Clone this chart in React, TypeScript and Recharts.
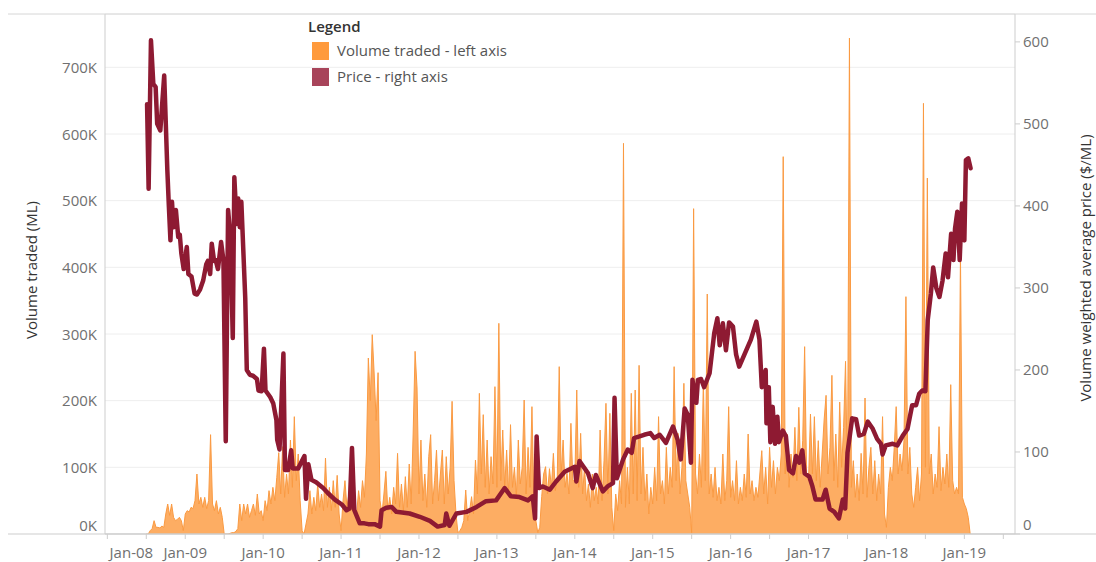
import React from 'react';
import { ComposedChart, Area, Line, XAxis, YAxis, CartesianGrid } from 'recharts';

const FONT = '"Open Sans", "Noto Sans", Arial, sans-serif';

// Volume traded (thousand ML), sampled every 0.025 year starting mid-2008
const VOL_START = 2008.5;
const VOL_STEP = 0.025;
const vol2008 = [0, 0, 5, 8, 20, 10, 10, 9, 12, 10, 30, 45, 28, 45, 25, 20, 22, 25, 20, 5];
const vol2009 = [30, 35, 33, 40, 38, 50, 90, 45, 55, 40, 55, 38, 50, 149, 45, 35, 50, 30, 40, 25, 0, 0, 0, 1, 2, 2, 4, 8, 45, 20, 45, 30, 45, 25, 35, 45, 28, 60, 30, 35];
const vol2010 = [20, 50, 35, 65, 45, 70, 50, 85, 122, 60, 131, 55, 90, 60, 141, 70, 176, 80, 120, 50, 5, 0, 15, 30, 65, 30, 55, 35, 75, 40, 60, 35, 114, 40, 70, 35, 80, 40, 88, 30];
const vol2011 = [5, 50, 80, 40, 60, 35, 75, 40, 30, 65, 40, 80, 55, 120, 264, 200, 299, 240, 170, 242, 50, 30, 60, 94, 35, 55, 30, 70, 45, 121, 40, 75, 35, 86, 40, 105, 45, 150, 274, 219];
const vol2012 = [60, 141, 50, 90, 40, 116, 149, 45, 80, 126, 50, 90, 126, 45, 116, 60, 100, 199, 80, 30, 2, 5, 10, 20, 66, 20, 35, 56, 30, 111, 60, 211, 90, 179, 70, 141, 60, 116, 75, 221];
const vol2013 = [70, 316, 80, 156, 70, 126, 60, 164, 70, 100, 55, 141, 75, 100, 201, 60, 130, 70, 191, 50, 20, 2, 10, 56, 90, 101, 60, 98, 70, 121, 65, 86, 251, 90, 141, 70, 91, 60, 166, 80];
const vol2014 = [80, 216, 70, 151, 60, 100, 50, 75, 40, 90, 50, 70, 45, 156, 50, 110, 196, 60, 181, 40, 5, 60, 35, 80, 45, 586, 40, 100, 45, 211, 60, 216, 50, 253, 60, 130, 50, 90, 30, 70];
const vol2015 = [45, 100, 50, 176, 60, 80, 45, 130, 60, 100, 70, 251, 80, 151, 60, 100, 226, 80, 60, 40, 2, 488, 90, 60, 120, 70, 230, 80, 360, 60, 90, 55, 100, 50, 70, 45, 120, 50, 80, 191];
const vol2016 = [55, 80, 50, 110, 45, 70, 50, 90, 55, 150, 60, 80, 50, 70, 55, 90, 125, 60, 100, 45, 130, 70, 110, 60, 100, 80, 120, 566, 90, 150, 70, 120, 85, 160, 80, 190, 90, 140, 281, 90];
const vol2017 = [80, 180, 90, 176, 80, 140, 70, 120, 171, 208, 90, 130, 238, 80, 150, 70, 198, 100, 160, 259, 70, 744, 70, 110, 55, 90, 50, 121, 60, 204, 55, 100, 130, 60, 110, 50, 90, 60, 176, 30];
const vol2018 = [10, 70, 100, 80, 130, 191, 90, 120, 95, 140, 356, 90, 130, 60, 40, 70, 100, 50, 90, 646, 100, 534, 90, 120, 60, 90, 70, 161, 65, 100, 75, 120, 70, 224, 80, 60, 70, 60, 421, 55];
const vol2019 = [45, 38, 25, 0];

// Volume weighted average price ($/ML)
const priceDates = [
  2008.51, 2008.53, 2008.56, 2008.59, 2008.62, 2008.64, 2008.68, 2008.73, 2008.77, 2008.79, 2008.81, 2008.83, 2008.85, 2008.88, 2008.91, 2008.93, 2008.95, 2008.98,
  2009.02, 2009.04, 2009.08, 2009.12, 2009.15, 2009.19, 2009.23, 2009.27, 2009.29, 2009.32, 2009.34, 2009.37, 2009.39, 2009.42, 2009.46, 2009.49, 2009.52, 2009.55,
  2009.58, 2009.61, 2009.63, 2009.66, 2009.68, 2009.70, 2009.72, 2009.77, 2009.79, 2009.83, 2009.87, 2009.92, 2009.94, 2009.98,
  2010.01, 2010.03, 2010.09, 2010.13, 2010.17, 2010.18, 2010.21, 2010.26, 2010.28, 2010.32, 2010.36, 2010.38, 2010.45, 2010.53, 2010.55, 2010.58, 2010.62, 2010.68, 2010.77, 2010.83, 2010.92,
  2011.01, 2011.07, 2011.11, 2011.14, 2011.17, 2011.24, 2011.30, 2011.35, 2011.43, 2011.50, 2011.52, 2011.58, 2011.65, 2011.71, 2011.88,
  2012.01, 2012.14, 2012.24, 2012.33, 2012.35, 2012.39, 2012.48, 2012.61, 2012.74, 2012.86, 2012.99,
  2013.10, 2013.18, 2013.29, 2013.40, 2013.46, 2013.49, 2013.51, 2013.54, 2013.59, 2013.68, 2013.76, 2013.87,
  2014.00, 2014.02, 2014.06, 2014.17, 2014.23, 2014.27, 2014.36, 2014.42, 2014.49, 2014.51, 2014.54, 2014.62, 2014.68, 2014.73, 2014.76, 2014.83, 2014.89, 2014.97,
  2015.02, 2015.09, 2015.17, 2015.26, 2015.32, 2015.36, 2015.41, 2015.45, 2015.49, 2015.51, 2015.56, 2015.58, 2015.62, 2015.66, 2015.73, 2015.79, 2015.83, 2015.86, 2015.90, 2015.94, 2015.98,
  2016.03, 2016.07, 2016.11, 2016.20, 2016.26, 2016.33, 2016.37, 2016.40, 2016.45, 2016.46, 2016.49, 2016.51, 2016.54, 2016.57, 2016.60, 2016.62, 2016.67, 2016.71, 2016.75, 2016.80, 2016.84, 2016.88, 2016.92, 2016.95,
  2017.01, 2017.05, 2017.09, 2017.12, 2017.18, 2017.22, 2017.27, 2017.33, 2017.39, 2017.44, 2017.47, 2017.50, 2017.56, 2017.61, 2017.65, 2017.71, 2017.76, 2017.82, 2017.88, 2017.93, 2017.95, 2017.99,
  2018.08, 2018.14, 2018.21, 2018.27, 2018.33, 2018.38, 2018.42, 2018.46, 2018.50, 2018.53, 2018.57, 2018.60, 2018.64, 2018.68, 2018.72, 2018.76, 2018.79, 2018.83, 2018.86, 2018.88, 2018.91, 2018.94, 2018.97,
  2019.00, 2019.02, 2019.05, 2019.08,
];
const priceValues = [
  524, 421, 602, 549, 545, 500, 492, 559, 444, 399, 358, 405, 374, 395, 362, 365, 342, 323,
  350, 317, 314, 293, 292, 298, 309, 329, 333, 317, 354, 333, 334, 323, 356, 334, 113, 395,
  362, 239, 435, 378, 409, 374, 405, 288, 200, 194, 193, 189, 175, 174,
  226, 175, 167, 159, 139, 115, 103, 220, 78, 78, 102, 80, 80, 95, 43, 85, 66, 63, 56, 50, 42,
  36, 29, 31, 105, 29, 13, 13, 12, 12, 9, 29, 32, 33, 27, 25,
  21, 16, 9, 11, 25, 10, 25, 27, 33, 40, 41,
  56, 46, 45, 41, 46, 19, 119, 56, 58, 54, 64, 76,
  82, 64, 89, 74, 56, 72, 52, 58, 62, 166, 68, 91, 103, 99, 117, 119, 121, 123,
  117, 121, 111, 131, 115, 91, 153, 145, 87, 188, 160, 188, 189, 179, 196, 245, 263, 230, 257, 224, 258,
  253, 219, 204, 224, 237, 259, 237, 179, 200, 135, 179, 112, 155, 110, 143, 112, 126, 119, 78, 74, 95, 87, 102, 74,
  70, 58, 42, 42, 42, 54, 31, 27, 19, 42, 31, 99, 141, 140, 120, 122, 137, 129, 116, 110, 97, 108,
  110, 108, 120, 128, 157, 157, 171, 175, 174, 261, 293, 325, 300, 289, 309, 342, 313, 366, 334, 372, 393, 334, 403,
  358, 456, 458, 446,
];

const leftTicks = [0, 100000, 200000, 300000, 400000, 500000, 600000, 700000];
const rightTicks = [0, 100, 200, 300, 400, 500, 600];
const timeTicks = [2008, 2008.5, 2009, 2009.5, 2010, 2010.5, 2011, 2011.5, 2012, 2012.5, 2013, 2013.5, 2014, 2014.5, 2015, 2015.5, 2016, 2016.5, 2017, 2017.5, 2018, 2018.5, 2019, 2019.5];
const yearLabels: Record<number, string> = {
  2008: 'Jan-08', 2009: 'Jan-09', 2010: 'Jan-10', 2011: 'Jan-11', 2012: 'Jan-12', 2013: 'Jan-13',
  2014: 'Jan-14', 2015: 'Jan-15', 2016: 'Jan-16', 2017: 'Jan-17', 2018: 'Jan-18', 2019: 'Jan-19',
};

const legendItems = [
  { label: 'Volume traded - left axis', color: '#FF9A3C' },
  { label: 'Price - right axis', color: '#A8445A' },
];

const VOL_FILL = '#FDAD63';
const VOL_STROKE = '#FA9A42';
const PRICE_COLOR = '#8E1A32';
const TICK_COLOR = '#707070';
const AXIS_COLOR = '#cdcdcd';

const volumeK = [vol2008, vol2009, vol2010, vol2011, vol2012, vol2013, vol2014, vol2015, vol2016, vol2017, vol2018, vol2019].flat();
const volRows = volumeK.map((v, i) => ({ t: +(VOL_START + i * VOL_STEP).toFixed(4), vol: v * 1000 }));
const priceRows = priceDates.map((d, i) => ({ t: d, price: priceValues[i] }));
const rows: any[] = [...volRows, ...priceRows].sort((a, b) => a.t - b.t);

const XTick = (props: any) => {
  const { x, y, payload } = props;
  const label = yearLabels[payload.value];
  if (!label) return <g />;
  const shift = payload.value === 2008 ? 24 : 0;
  return (
    <text x={x + shift} y={y} dy={16.5} textAnchor="middle" fill={TICK_COLOR} fontSize={15} fontFamily={FONT}>
      {label}
    </text>
  );
};

const LeftTick = (props: any) => {
  const { x, y, payload } = props;
  const yy = payload.value === 0 ? y - 9 : y;
  return (
    <text x={x} y={yy} dy={5.5} textAnchor="end" fill={TICK_COLOR} fontSize={15} fontFamily={FONT}>
      {`${payload.value / 1000}K`}
    </text>
  );
};

const RightTick = (props: any) => {
  const { x, y, payload } = props;
  const yy = payload.value === 0 ? y - 10 : y;
  return (
    <text x={x} y={yy} dy={5.5} textAnchor="start" fill={TICK_COLOR} fontSize={15} fontFamily={FONT}>
      {payload.value}
    </text>
  );
};

const LeftTitle = (props: any) => {
  const vb = props.viewBox || { x: 0, y: 14, width: 105, height: 520 };
  const cx = vb.x + 31;
  const cy = vb.y + 256;
  return (
    <text x={cx} y={cy} transform={`rotate(-90 ${cx} ${cy})`} textAnchor="middle" dominantBaseline="central"
      fill="#333" fontSize={15} fontWeight={500} fontFamily={FONT}>
      Volume traded (ML)
    </text>
  );
};

const RightTitle = (props: any) => {
  const vb = props.viewBox || { x: 1015, y: 14, width: 81, height: 520 };
  const cx = vb.x + 70;
  const cy = vb.y + 254;
  return (
    <text x={cx} y={cy} transform={`rotate(-90 ${cx} ${cy})`} textAnchor="middle" dominantBaseline="central"
      fill="#333" fontSize={15} fontWeight={500} fontFamily={FONT}>
      Volume weighted average price ($/ML)
    </text>
  );
};

export default function App() {
  return (
    <div style={{ position: 'absolute', left: 0, top: 0, width: 1096, height: 562, background: '#fff', overflow: 'hidden' }}>
      <ComposedChart width={1096} height={562} data={rows} margin={{ top: 14, right: 0, bottom: 0, left: 0 }}>
        <CartesianGrid yAxisId="v" vertical={false} stroke="#eeeeee" />
        <XAxis
          dataKey="t"
          type="number"
          domain={[2007.97, 2019.65]}
          allowDataOverflow
          ticks={timeTicks}
          interval={0}
          height={28}
          tickSize={5}
          tickMargin={2}
          tickLine={{ stroke: AXIS_COLOR }}
          axisLine={{ stroke: AXIS_COLOR }}
          tick={<XTick />}
        />
        <YAxis
          yAxisId="v"
          orientation="left"
          type="number"
          domain={[0, 780000]}
          allowDataOverflow
          ticks={leftTicks}
          interval={0}
          width={105}
          tickSize={6}
          tickMargin={2}
          tickLine={false}
          axisLine={{ stroke: AXIS_COLOR }}
          tick={<LeftTick />}
          label={<LeftTitle />}
        />
        <YAxis
          yAxisId="p"
          orientation="right"
          type="number"
          domain={[0, 634]}
          allowDataOverflow
          ticks={rightTicks}
          interval={0}
          width={81}
          tickSize={5}
          tickMargin={3}
          tickLine={{ stroke: AXIS_COLOR }}
          axisLine={{ stroke: AXIS_COLOR }}
          tick={<RightTick />}
          label={<RightTitle />}
        />
        <Area
          yAxisId="v"
          type="linear"
          dataKey="vol"
          stroke={VOL_STROKE}
          strokeWidth={1}
          fill={VOL_FILL}
          fillOpacity={1}
          connectNulls
          dot={false}
          activeDot={false}
          isAnimationActive={false}
        />
        <Line
          yAxisId="p"
          type="linear"
          dataKey="price"
          stroke={PRICE_COLOR}
          strokeWidth={4.5}
          strokeLinejoin="round"
          strokeLinecap="round"
          connectNulls
          dot={false}
          activeDot={false}
          isAnimationActive={false}
        />
      </ComposedChart>
      <svg width={1096} height={562} style={{ position: 'absolute', left: 0, top: 0, pointerEvents: 'none' }}>
        <line x1={8} x2={1096} y1={14} y2={14} stroke="#d6d6d6" strokeWidth={1} />
        <line x1={8} x2={1096} y1={534} y2={534} stroke={AXIS_COLOR} strokeWidth={1} />
      </svg>
      <div style={{ position: 'absolute', left: 308, top: 17, fontFamily: FONT }}>
        <div style={{ fontSize: 15, lineHeight: '18px', fontWeight: 600, color: '#333' }}>Legend</div>
      </div>
      {legendItems.map((it, i) => (
        <div key={it.label} style={{ position: 'absolute', left: 312, top: 41 + i * 26, height: 18, fontFamily: FONT }}>
          <div style={{ position: 'absolute', left: 0, top: 1, width: 17, height: 18, background: it.color }} />
          <div style={{ position: 'absolute', left: 25, top: 0, whiteSpace: 'nowrap', fontSize: 15, lineHeight: '18px', color: '#555' }}>
            {it.label}
          </div>
        </div>
      ))}
    </div>
  );
}
